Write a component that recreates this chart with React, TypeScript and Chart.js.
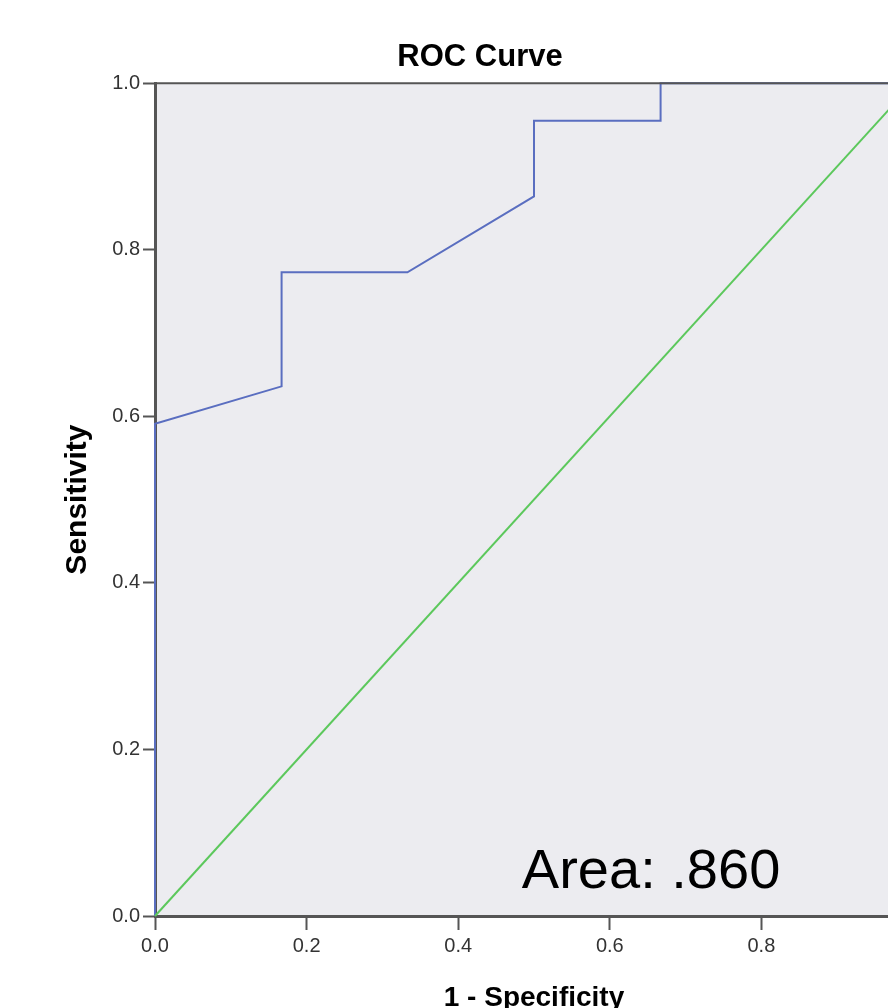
import React, { useEffect, useRef } from "react";
import { Chart, registerables } from "chart.js";

Chart.register(...registerables);

const chartTitle = "ROC Curve";
const xAxisTitle = "1 - Specificity";
const yAxisTitle = "Sensitivity";
const rocFpr = [0, 0, 0.167, 0.167, 0.333, 0.5, 0.5, 0.667, 0.667, 1];
const rocTpr = [0, 0.591, 0.636, 0.773, 0.773, 0.864, 0.955, 0.955, 1, 1];
const refFpr = [0, 1];
const refTpr = [0, 1];
const tickValues = [0, 0.2, 0.4, 0.6, 0.8, 1.0];
const areaLabel = "Area: .860";
const areaLabelPos = { x: 0.484, y: 0.034 };

const plotDecor = {
  id: "plotDecor",
  beforeDraw(chart: any) {
    const { ctx, chartArea } = chart;
    ctx.save();
    ctx.fillStyle = "#ececf0";
    ctx.fillRect(chartArea.left, chartArea.top, chartArea.right - chartArea.left, chartArea.bottom - chartArea.top);
    ctx.restore();
  },
  afterDraw(chart: any) {
    const { ctx, chartArea, scales } = chart;
    ctx.save();
    ctx.strokeStyle = "#555555";
    ctx.lineWidth = 2;
    ctx.beginPath();
    ctx.moveTo(chartArea.left - 1, chartArea.top);
    ctx.lineTo(chartArea.right, chartArea.top);
    ctx.lineTo(chartArea.right, chartArea.bottom);
    ctx.stroke();
    ctx.fillStyle = "#000000";
    ctx.font = "56px 'Liberation Sans', Arial, sans-serif";
    ctx.textAlign = "left";
    ctx.textBaseline = "alphabetic";
    ctx.fillText(areaLabel, scales.x.getPixelForValue(areaLabelPos.x), scales.y.getPixelForValue(areaLabelPos.y));
    ctx.restore();
  },
};

export default function App() {
  const ref = useRef<HTMLCanvasElement | null>(null);
  useEffect(() => {
    document.documentElement.style.overflow = "hidden";
    document.body.style.overflow = "hidden";
    if (!ref.current) return;
    const tickFont = { family: "'Liberation Sans', Arial, sans-serif", size: 20 };
    const chart = new Chart(ref.current, {
      type: "scatter",
      data: {
        datasets: [
          {
            data: refFpr.map((x, i) => ({ x, y: refTpr[i] })),
            showLine: true,
            borderColor: "#5cc85c",
            borderWidth: 2,
            pointRadius: 0,
            clip: 4,
          },
          {
            data: rocFpr.map((x, i) => ({ x, y: rocTpr[i] })),
            showLine: true,
            borderColor: "#5a6ec0",
            borderWidth: 2,
            pointRadius: 0,
            clip: 4,
          },
        ],
      },
      options: {
        animation: false,
        responsive: false,
        maintainAspectRatio: false,
        layout: { padding: 0 },
        plugins: {
          legend: { display: false },
          tooltip: { enabled: false },
          title: {
            display: true,
            text: chartTitle,
            color: "#000000",
            font: { family: "'Liberation Sans', Arial, sans-serif", size: 31, weight: "bold", lineHeight: 1.2 },
            padding: { top: 31, bottom: 7 },
          },
        },
        scales: {
          x: {
            type: "linear",
            min: 0,
            max: 1,
            afterBuildTicks: (s: any) => {
              s.ticks = tickValues.map((v) => ({ value: v }));
            },
            afterFit: (s: any) => {
              s.height = 122;
            },
            ticks: {
              color: "#333333",
              font: tickFont,
              padding: 4,
              maxRotation: 0,
              callback: (v: any) => Number(v).toFixed(1),
            },
            grid: { drawOnChartArea: false, drawTicks: true, tickLength: 14, tickColor: "#555555", tickWidth: 2 },
            border: { display: true, color: "#555555", width: 3 },
            title: {
              display: true,
              text: xAxisTitle,
              color: "#000000",
              font: { family: "'Liberation Sans', Arial, sans-serif", size: 28, weight: "bold", lineHeight: 1.2 },
              padding: { top: 0, bottom: 23 },
            },
          },
          y: {
            type: "linear",
            min: 0,
            max: 1,
            afterBuildTicks: (s: any) => {
              s.ticks = tickValues.map((v) => ({ value: v }));
            },
            afterFit: (s: any) => {
              s.width = 147;
            },
            ticks: {
              color: "#333333",
              font: tickFont,
              padding: 3,
              callback: (v: any) => Number(v).toFixed(1),
            },
            grid: { drawOnChartArea: false, drawTicks: true, tickLength: 12, tickColor: "#555555", tickWidth: 2 },
            border: { display: true, color: "#555555", width: 3 },
            title: {
              display: true,
              text: yAxisTitle,
              color: "#000000",
              font: { family: "'Liberation Sans', Arial, sans-serif", size: 30, weight: "bold", lineHeight: 1.2 },
              padding: { top: 52, bottom: 0 },
            },
          },
          yRightSpace: {
            type: "linear",
            position: "right",
            min: 0,
            max: 1,
            afterFit: (s: any) => {
              s.width = 39;
            },
            ticks: { display: false },
            grid: { display: false, drawTicks: false },
            border: { display: false },
          },
        },
      },
      plugins: [plotDecor],
    } as any);
    return () => chart.destroy();
  }, []);
  return (
    <div style={{ width: 896, height: 1008, marginBottom: -8, overflow: "hidden", position: "relative" }}>
      <canvas ref={ref} width={944} height={1030} style={{ display: "block", width: 944, height: 1030 }} />
    </div>
  );
}
